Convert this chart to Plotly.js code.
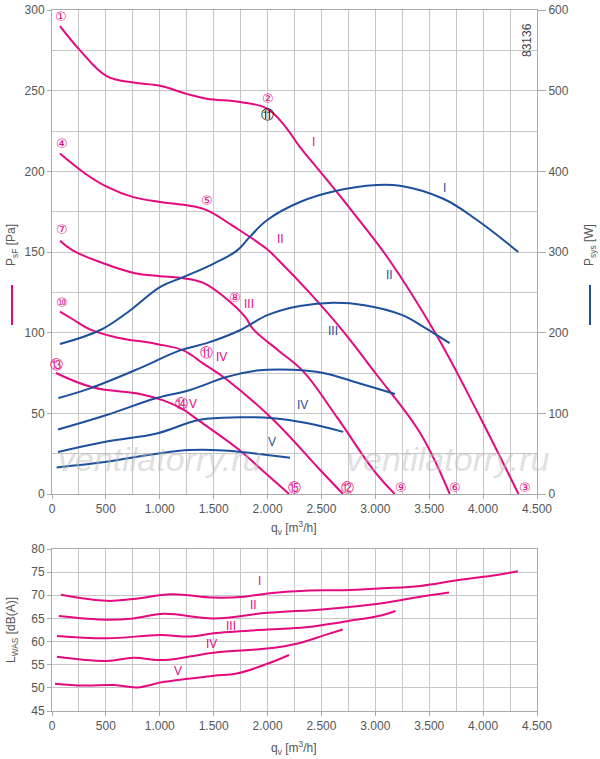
<!DOCTYPE html>
<html><head><meta charset="utf-8">
<script src="https://cdn.plot.ly/plotly-3.0.1.min.js"></script>
<style>body{margin:0;background:#fff}#c{width:600px;height:759px}</style>
</head><body><div id="c"></div>
<script>
// Pressure curves [Pa]
const pI_q=[74,260,507,755,1002,1249,1435,1744,1991,2150,2301,2486,2800,3120,3563,3953,4328];
const pI_v=[290,275,259,255,253,248,245,243,239,229,215,200,174,146,99,50,0];
const pII_q=[74,300,507,755,1002,1249,1435,1682,1991,2100,2400,2687,3000,3414,3690];
const pII_v=[211,199,190.5,184,181,179,176,166,152,145,124,102,75,38,0];
const pIII_q=[74,192,476,760,1000,1186,1399,1600,1790,1868,2100,2331,2650,2981,3180];
const pIII_v=[157,151,143,137,135,134,131,122,110,102,89,76,47,15,0];
const pIV_q=[74,200,352,600,971,1218,1400,1620,2053,2486,2700];
const pIV_v=[113,108,102,97,93,89,81,71,46,15,0];
const pV_q=[37,383,816,1033,1200,1373,1744,1945,2200];
const pV_v=[75,66,62,58,53,45,27,15,0];
// Power curves [W]
const wI_q=[74,445,700,1009,1222,1506,1719,1837,2000,2301,2610,3012,3228,3630,3940,4326];
const wI_v=[186,203,225,257,269,286,302,319,340,362,375,383,382,366,340,300];
const wII_q=[59,352,816,1187,1435,1744,2004,2300,2607,2900,3245,3450,3689];
const wII_v=[119,131,156,178,187,203,222,233,237,234,222,207,187];
const wIII_q=[56,507,971,1280,1620,1899,2239,2516,2857,3182];
const wIII_v=[80,98,119,129,145,153,154,150,137,124];
const wIV_q=[56,507,971,1373,1744,2053,2362,2702];
const wIV_v=[52,65,75,92,95,94,88,77];
const wV_q=[43,507,971,1280,1590,1899,2208];
const wV_v=[33,40,50,54.5,54,50,45];
// Sound power [dB(A)]
const sI_q=[82,507,756,1111,1501,1785,1998,2353,2708,3063,3418,3773,4127,4323];
const sI_v=[70.1,68.8,69.2,70.2,69.5,69.7,70.4,71.0,71.1,71.5,72.0,73.3,74.4,75.2];
const sII_q=[64,507,756,1040,1501,1998,2530,3063,3418,3684];
const sII_v=[65.5,64.7,65.0,66.0,65.0,66.2,67.0,68.3,69.7,70.6];
const sIII_q=[46,507,1004,1288,1501,1998,2353,2708,3063,3187];
const sIII_v=[61.2,60.7,61.4,61.1,61.8,62.6,63.1,64.3,65.7,66.6];
const sIV_q=[46,507,756,1040,1501,1998,2282,2530,2697];
const sIV_v=[56.7,55.8,56.5,56.0,57.6,58.5,59.6,61.4,62.6];
const sV_q=[28,295,578,791,1040,1501,1714,1998,2200];
const sV_v=[50.9,50.5,50.6,50.1,51.3,52.6,53.1,55.2,57.1];

const xTicks=[0,500,1000,1500,2000,2500,3000,3500,4000,4500];
const xTickText=['0','500','1.000','1.500','2.000','2.500','3.000','3.500','4.000','4.500'];

const MAG='#e5097f', BLU='#1d4f9c', GRID='#c6c6c6', TXT='#555';
const ln=(x,y,c,xa,ya)=>({x,y,xaxis:xa,yaxis:ya,mode:'lines',line:{color:c,width:2,shape:'spline',smoothing:1.1},hoverinfo:'skip',showlegend:false});
const data=[
 ln(pI_q,pI_v,MAG,'x','y'),ln(pII_q,pII_v,MAG,'x','y'),ln(pIII_q,pIII_v,MAG,'x','y'),ln(pIV_q,pIV_v,MAG,'x','y'),ln(pV_q,pV_v,MAG,'x','y'),
 ln(wI_q,wI_v,BLU,'x','y2'),ln(wII_q,wII_v,BLU,'x','y2'),ln(wIII_q,wIII_v,BLU,'x','y2'),ln(wIV_q,wIV_v,BLU,'x','y2'),ln(wV_q,wV_v,BLU,'x','y2'),
 ln(sI_q,sI_v,MAG,'x2','y3'),ln(sII_q,sII_v,MAG,'x2','y3'),ln(sIII_q,sIII_v,MAG,'x2','y3'),ln(sIV_q,sIV_v,MAG,'x2','y3'),ln(sV_q,sV_v,MAG,'x2','y3')
];
const H=759;
const dTop=[1-494/H,1-10/H], dBot=[1-711/H,1-549/H];
const F={family:'Liberation Sans, Arial, sans-serif',size:12,color:TXT};
const xax=(anchor)=>({range:[0,4500],domain:[0,1],anchor,tickvals:xTicks,ticktext:xTickText,showgrid:true,gridcolor:GRID,gridwidth:1,
  minor:{dtick:250,tick0:0,showgrid:true,gridcolor:GRID,gridwidth:1},zeroline:false,showline:true,linecolor:'#aaa',mirror:true,ticks:'outside',ticklen:4,tickcolor:'#aaa',tickfont:F,fixedrange:true});
const layout={
 width:600,height:759,margin:{l:52,r:63,t:0,b:0},paper_bgcolor:'#fff',plot_bgcolor:'#fff',font:F,
 xaxis:xax('y'),
 xaxis2:xax('y3'),
 yaxis:{domain:dTop,range:[0,300],dtick:50,showgrid:true,gridcolor:GRID,minor:{dtick:25,showgrid:true,gridcolor:GRID},zeroline:false,showline:true,linecolor:'#aaa',ticks:'outside',ticklen:4,tickcolor:'#aaa',tickfont:F},
 yaxis2:{domain:dTop,range:[0,600],dtick:100,overlaying:'y',side:'right',anchor:'x',showgrid:false,zeroline:false,showline:true,linecolor:'#aaa',ticks:'outside',ticklen:8,tickcolor:'#aaa',tickfont:F},
 yaxis3:{domain:dBot,range:[45,80],dtick:5,showgrid:true,gridcolor:GRID,zeroline:false,showline:true,linecolor:'#aaa',mirror:true,ticks:'outside',ticklen:4,tickcolor:'#aaa',tickfont:F,anchor:'x2'},
 shapes:[
  {type:'line',xref:'paper',yref:'paper',x0:-40/485,x1:-40/485,y0:1-325/H,y1:1-285/H,line:{color:MAG,width:2}},
  {type:'line',xref:'paper',yref:'paper',x0:538/485,x1:538/485,y0:1-325/H,y1:1-285/H,line:{color:BLU,width:2}}
 ],
 annotations:[]
};
const A=layout.annotations;
const pa=(x,y,t,o)=>A.push(Object.assign({xref:'paper',yref:'paper',x:(x-52)/485,y:1-y/H,xanchor:'center',yanchor:'middle',text:t,showarrow:false,font:F},o||{}));
pa(12,245,'P<sub>sF</sub> [Pa]',{textangle:-90});
pa(590,245,'P<sub>sys</sub> [W]',{textangle:-90});
pa(12,630,'L<sub>WAS</sub> [dB(A)]',{textangle:-90});
pa(294,528,'q<sub>v</sub> [m<sup>3</sup>/h]');
pa(294,748,'q<sub>v</sub> [m<sup>3</sup>/h]');
pa(527,40,'83136',{textangle:-90,font:{family:F.family,size:12,color:'#444'}});
const wm={family:'Liberation Sans, Arial, sans-serif',size:34,color:'rgba(185,185,185,0.45)'};
pa(160,459,'<i>ventilatorry.ru</i>',{font:wm});
pa(448,459,'<i>ventilatorry.ru</i>',{font:wm});
const mk=(x,y,t,c,xa,ya,s)=>A.push({x,y,xref:xa||'x',yref:ya||'y',text:t,showarrow:false,font:{family:'DejaVu Sans, sans-serif',size:s||13,color:c||MAG}});
const circ=[['①',80,296],['②',2000,245],['④',90,217],['⑤',1435,182],['⑦',90,164],['⑧',1701,122],['⑩',90,119],['⑪',1435,88],['⑬',40,80],['⑭',1203,56],
 ['⑮',2254,4],['⑫',2746,4],['⑨',3237,4],['⑥',3738,4],['③',4388,4]];
circ.forEach(c=>mk(c[1],c[2],c[0]));
mk(2004,235,'⑪','#000');
const RF='Liberation Sans, Arial, sans-serif';
const rl=(x,y,t,c,xa,ya)=>A.push({x,y,xref:xa,yref:ya,text:t,showarrow:false,font:{family:RF,size:12,color:c}});
rl(2430,218,'I',MAG,'x','y');rl(2124,158,'II',MAG,'x','y');rl(1827,118,'III',MAG,'x','y');rl(1577,85,'IV',MAG,'x','y');rl(1308,56,'V',MAG,'x','y');
rl(3645,379,'I',BLU,'x','y2');rl(3135,271,'II',BLU,'x','y2');rl(2607,202,'III',BLU,'x','y2');rl(2328,110,'IV',BLU,'x','y2');rl(2041,64,'V',BLU,'x','y2');
rl(1927,73,'I',MAG,'x2','y3');rl(1874,67.8,'II',MAG,'x2','y3');rl(1661,63.4,'III',MAG,'x2','y3');rl(1476,59.5,'IV',MAG,'x2','y3');rl(1171,53.6,'V',MAG,'x2','y3');
Plotly.newPlot('c',data,layout,{displayModeBar:false,staticPlot:true});
</script></body></html>
